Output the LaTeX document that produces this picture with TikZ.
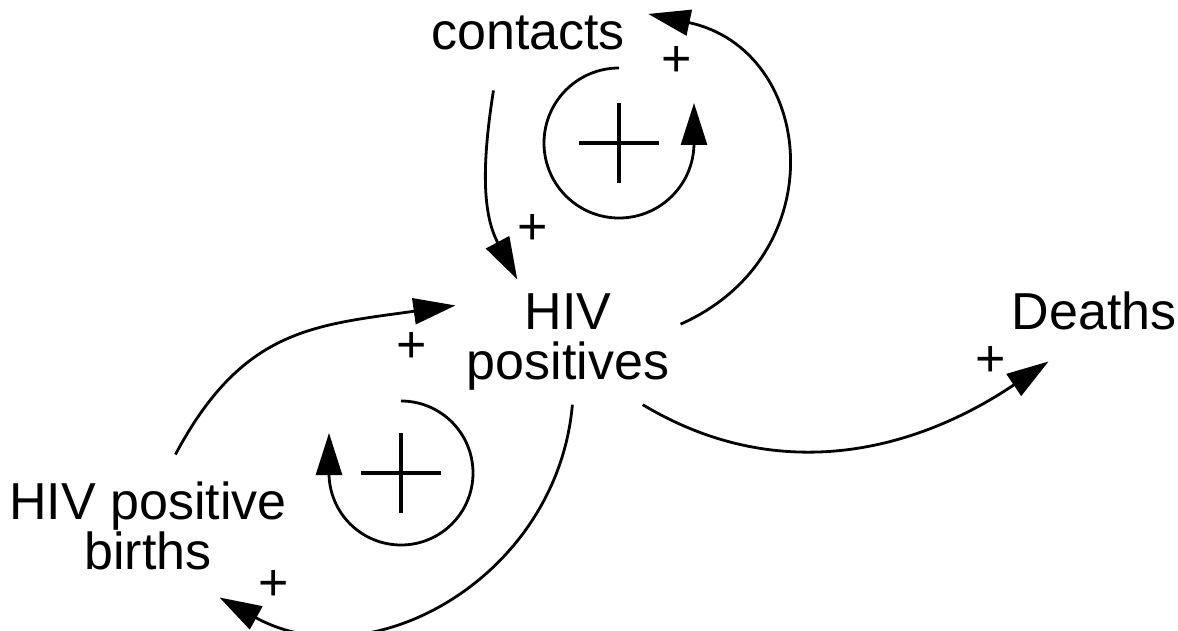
\documentclass[tikz,border=0pt]{standalone}
\usepackage{fontspec}
\setmainfont{Liberation Sans}
\usetikzlibrary{arrows.meta, positioning}

\begin{document}
\begin{tikzpicture}[x=1pt, y=1pt, on grid, line width=2.8pt,
    >={Triangle[length=42pt, width=26pt]},
    var/.style={font=\fontsize{52}{50}\selectfont, align=center},
    sign/.style={font=\fontsize{52}{50}\selectfont, inner sep=0pt}]
  \useasboundingbox (0,0) rectangle (1178,-631);
  \node[var, inner xsep=10pt, inner ysep=13pt] (hiv) at (568,-342) {HIV\\positives};
  \node[var, inner xsep=22pt, inner ysep=39pt] (contacts) [above left=309pt and 40pt of hiv] {contacts};
  \node[var, inner xsep=10pt, inner ysep=30pt] (deaths) [above right=31pt and 526pt of hiv] {Deaths};
  \node[var, inner xsep=10pt, inner ysep=26pt] (births) [below left=184pt and 420pt of hiv] {HIV positive\\births};
  \path[->]
    (contacts.239) edge [out=261, in=118] node[sign, at end, shift={(15pt,50pt)}] {+} (hiv.129)
    (hiv.9) edge [out=24, in=-12, looseness=1.4] node[sign, at end, shift={(28pt,-48pt)}] {+} (contacts.9)
    (births.69) edge [out=62, in=188, looseness=1.15] node[sign, at end, shift={(-44pt,-42pt)}] {+} (hiv.162)
    (hiv.274) edge [out=265, in=331, looseness=1.1] node[sign, at end, shift={(54pt,12pt)}] {+} (births.315)
    (hiv.320) edge [out=-31, in=214] node[sign, at end, shift={(-58pt,0pt)}] {+} (deaths.228);
  % reinforcing loops
  \coordinate (r1) at (619,-143);
  \coordinate (r2) at (401,-473);
  \draw[->] ([yshift=75pt]r1) arc (90:360:75) -- ++(0,40);
  \draw[->] ([yshift=72pt]r2) arc (90:-180:72) -- ++(0,40);
  \draw[line width=3.5pt] ([xshift=-40pt]r1) -- ([xshift=40pt]r1) ([yshift=-40pt]r1) -- ([yshift=40pt]r1);
  \draw[line width=3.5pt] ([xshift=-40pt]r2) -- ([xshift=40pt]r2) ([yshift=-40pt]r2) -- ([yshift=40pt]r2);
\end{tikzpicture}
\end{document}
